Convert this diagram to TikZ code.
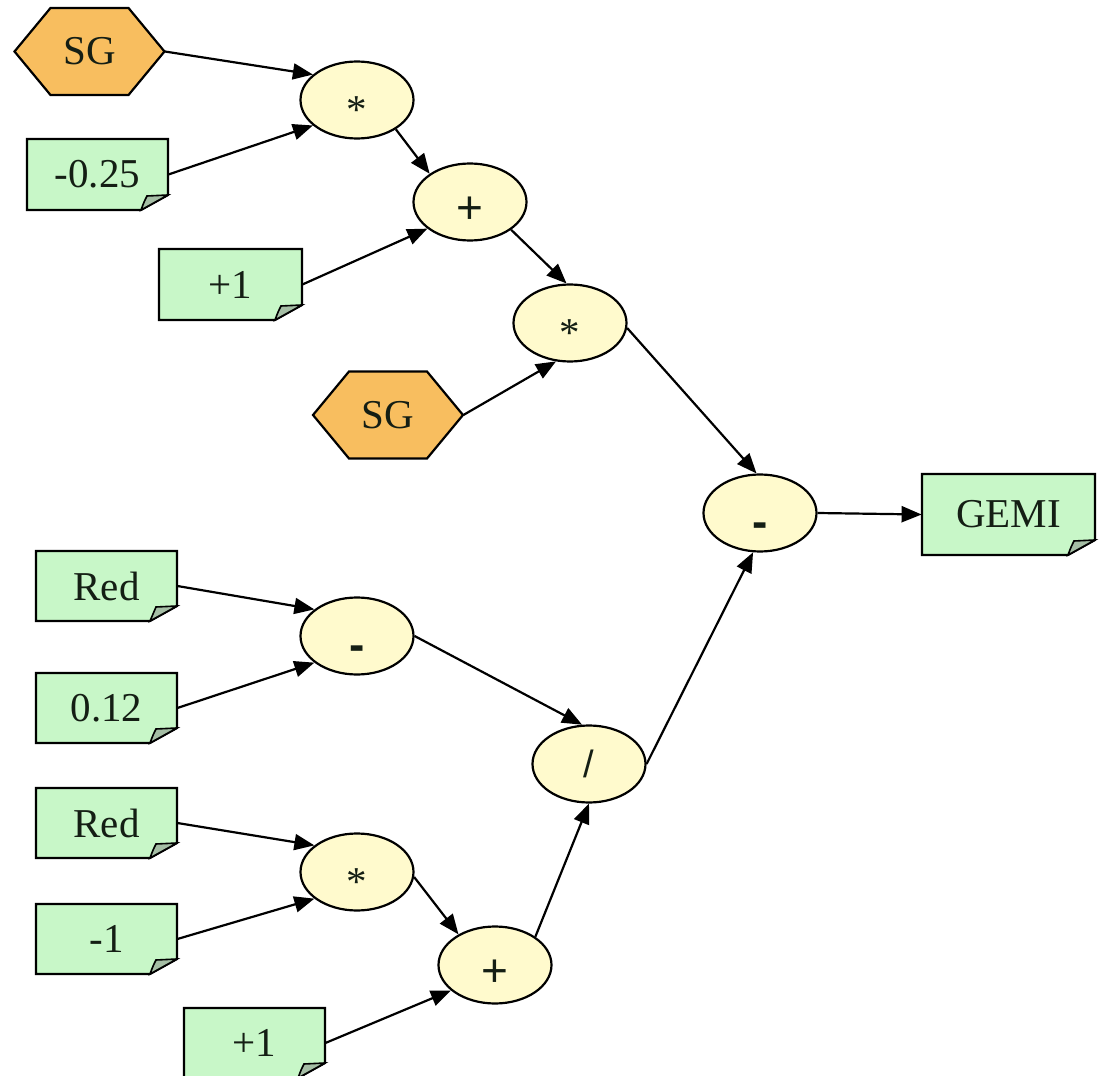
\documentclass[tikz,border=0pt]{standalone}
\usepackage{fontspec}
\setmainfont{Liberation Serif}
\newfontfamily\opfont{Liberation Sans}
\usetikzlibrary{shapes.geometric,arrows.meta}

\definecolor{notegreen}{RGB}{200,247,200}
\definecolor{foldgreen}{RGB}{165,190,165}
\definecolor{hexorange}{RGB}{248,190,95}
\definecolor{opcream}{RGB}{255,250,205}
\definecolor{inktext}{RGB}{20,30,20}

\tikzset{
  outline/.style={line width=1.1pt, draw=black, line join=miter},
  txt/.style={inner sep=0pt, text=inktext, font=\fontsize{20.5}{24}\selectfont},
  op/.style={ellipse, outline, fill=opcream, minimum width=56.5pt,
             minimum height=38.5pt, inner sep=0pt, text=inktext,
             font=\fontsize{20.5}{24}\selectfont},
  opsans/.style={op, font=\opfont\fontsize{23}{26}\selectfont},
  flow/.style={line width=1.1pt, -{Triangle[length=10pt,width=8pt]}},
}

% note box with a folded bottom-right corner: name, cx, cy, w, h, text
\newcommand\notenode[6]{%
  \pgfmathsetmacro\nL{#2-#4/2}\pgfmathsetmacro\nR{#2+#4/2}%
  \pgfmathsetmacro\nT{#3-#5/2}\pgfmathsetmacro\nB{#3+#5/2}%
  \filldraw[outline, fill=notegreen] (\nL,\nT) -- (\nR,\nT) -- (\nR,\nB-15)
    -- (\nR-27,\nB) -- (\nL,\nB) -- cycle;
  \filldraw[outline, fill=foldgreen, line width=0.8pt] (\nR,\nB-15) -- (\nR-21,\nB-14)
    .. controls (\nR-24,\nB-8) .. (\nR-27,\nB) -- cycle;
  \node[txt, minimum width=#4*0.5pt, minimum height=#5*0.5pt] (#1) at (#2,#3) {#6};
}

% flattened hexagon: name, cx, cy, text
\newcommand\hexnode[4]{%
  \filldraw[outline, fill=hexorange] (#2-75,#3) -- (#2-39,#3-43.5) -- (#2+39,#3-43.5)
    -- (#2+75,#3) -- (#2+39,#3+43.5) -- (#2-39,#3+43.5) -- cycle;
  \node[txt, minimum width=75pt, minimum height=43.5pt] (#1) at (#2,#3) {#4};
}

% operator glyphs set with zero height so they can be placed relative to the centre
\newcommand\opglyph[2]{\raisebox{#1}[0pt][0pt]{#2}}
\newcommand\minussign{\opglyph{-12pt}{\bfseries -}}
\newcommand\plussign{\opglyph{-10.5pt}{+}}
\newcommand\timessign{\opglyph{-11.5pt}{*}}
\newcommand\divsign{\opglyph{-6.5pt}{\fontsize{19}{22}\selectfont /}}

\begin{document}
\begin{tikzpicture}[x=0.5pt, y=-0.5pt]
\useasboundingbox (0,0) rectangle (1100,1076);
\fill[white] (0,0) rectangle (1100,1076);

% inputs
\hexnode{sga}{89.5}{51.5}{SG}
\notenode{cqa}{97.5}{174.5}{141}{71}{-0.25}
\notenode{onea}{230.5}{284.5}{143}{71}{+1}
\hexnode{sgb}{388}{415}{SG}
\notenode{reda}{106.5}{586}{141}{70}{Red}
\notenode{cza}{106.5}{708}{141}{70}{0.12}
\notenode{redb}{106.5}{823}{141}{70}{Red}
\notenode{negone}{106.5}{939}{141}{70}{-1}
\notenode{oneb}{254.5}{1043}{141}{70}{+1}
\notenode{gemi}{1008.5}{514.5}{173}{81}{GEMI}

% operators
\node[op] (mula) at (357,100) {\timessign};
\node[opsans] (adda) at (470,202) {\plussign};
\node[op] (mulb) at (570,323) {\timessign};
\node[opsans] (subr) at (760,513) {\minussign};
\node[opsans] (subm) at (357,636) {\minussign};
\node[opsans] (divm) at (589,764) {\divsign};
\node[op] (mulc) at (357,872) {\timessign};
\node[opsans] (addb) at (495,965) {\plussign};

% connectors
\draw[flow] (sga.east) -- (mula.150);
\draw[flow] (cqa.east) -- (mula.210);
\draw[flow] (mula.-37) -- (adda.145);
\draw[flow] (onea.east) -- (adda.212);
\draw[flow] (adda.-34) -- (mulb.95);
\draw[flow] (sgb.east) -- (mulb.250);
\draw[flow] (mulb.-5) -- (subr.95);
\draw[flow] (reda.east) -- (subm.148);
\draw[flow] (cza.east) -- (subm.212);
\draw[flow] (subm.east) -- (divm.100);
\draw[flow] (divm.east) -- (subr.-100);
\draw[flow] (redb.east) -- (mulc.148);
\draw[flow] (negone.east) -- (mulc.212);
\draw[flow] (mulc.-5) -- (addb.140);
\draw[flow] (oneb.east) -- (addb.210);
\draw[flow] (addb.35) -- (divm.-90);
\draw[flow] (subr.east) -- (gemi.west);
\end{tikzpicture}
\end{document}
